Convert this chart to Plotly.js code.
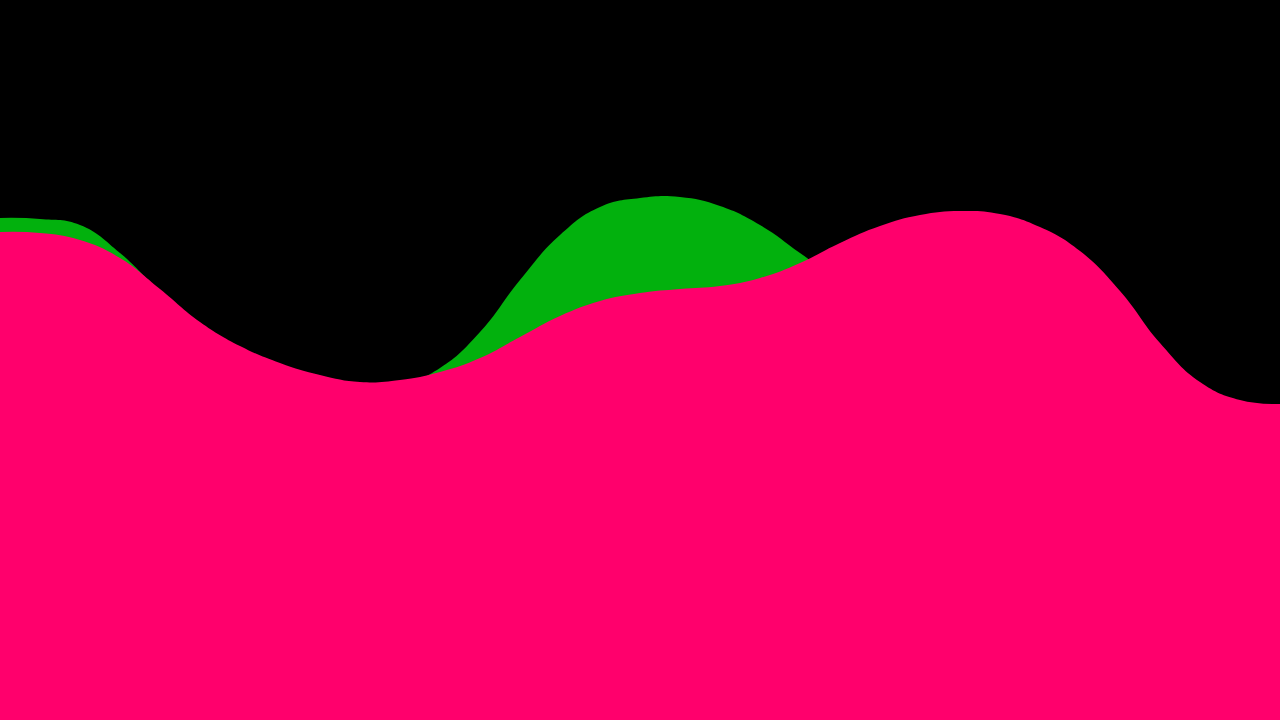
<!DOCTYPE html>
<html>
<head>
<meta charset="utf-8">
<script src="https://cdn.plot.ly/plotly-3.0.1.min.js"></script>
<style>
  html, body { margin: 0; padding: 0; background: #000; }
  #plot { width: 1280px; height: 720px; }
</style>
</head>
<body>
<div id="plot"></div>
<script>
// sample positions, every 40 px across
var xs = [0, 40, 80, 120, 160, 200, 240, 280, 320, 360, 400, 440, 480, 520, 560, 600,
          640, 680, 720, 760, 800, 840, 880, 920, 960, 1000, 1040, 1080, 1120, 1160, 1200, 1240, 1280];

// back wave (green)
var greenY = [502, 501, 495, 467, 428, 392, 366, 348, 338, 333, 335, 352, 388, 440, 485, 513,
              522, 523, 514, 495, 467, 438, 415, 395, 380, 370, 365, 360, 350, 335, 320, 305, 300];

// front wave (pink)
var pinkY = [488, 487, 480, 462, 431, 398, 374, 357, 345, 338, 340, 348, 362, 383, 404, 419,
             427, 431, 434, 442, 457, 477, 494, 505, 509, 506, 493, 469, 429, 377, 338, 320, 316];

var traceGreen = {
  x: xs,
  y: greenY,
  type: "scatter",
  mode: "lines",
  fill: "tozeroy",
  fillcolor: "#02b10d",
  line: { shape: "spline", smoothing: 1.3, width: 0, color: "#02b10d" },
  hoverinfo: "skip"
};

var tracePink = {
  x: xs,
  y: pinkY,
  type: "scatter",
  mode: "lines",
  fill: "tozeroy",
  fillcolor: "#ff006c",
  line: { shape: "spline", smoothing: 1.3, width: 0, color: "#ff006c" },
  hoverinfo: "skip"
};

var layout = {
  width: 1280,
  height: 720,
  margin: { l: 0, r: 0, t: 0, b: 0, pad: 0 },
  paper_bgcolor: "#000000",
  plot_bgcolor: "#000000",
  showlegend: false,
  xaxis: { range: [0, 1280], visible: false, fixedrange: true },
  yaxis: { range: [0, 720], visible: false, fixedrange: true }
};

Plotly.newPlot("plot", [traceGreen, tracePink], layout, { displayModeBar: false, staticPlot: true });
</script>
</body>
</html>
